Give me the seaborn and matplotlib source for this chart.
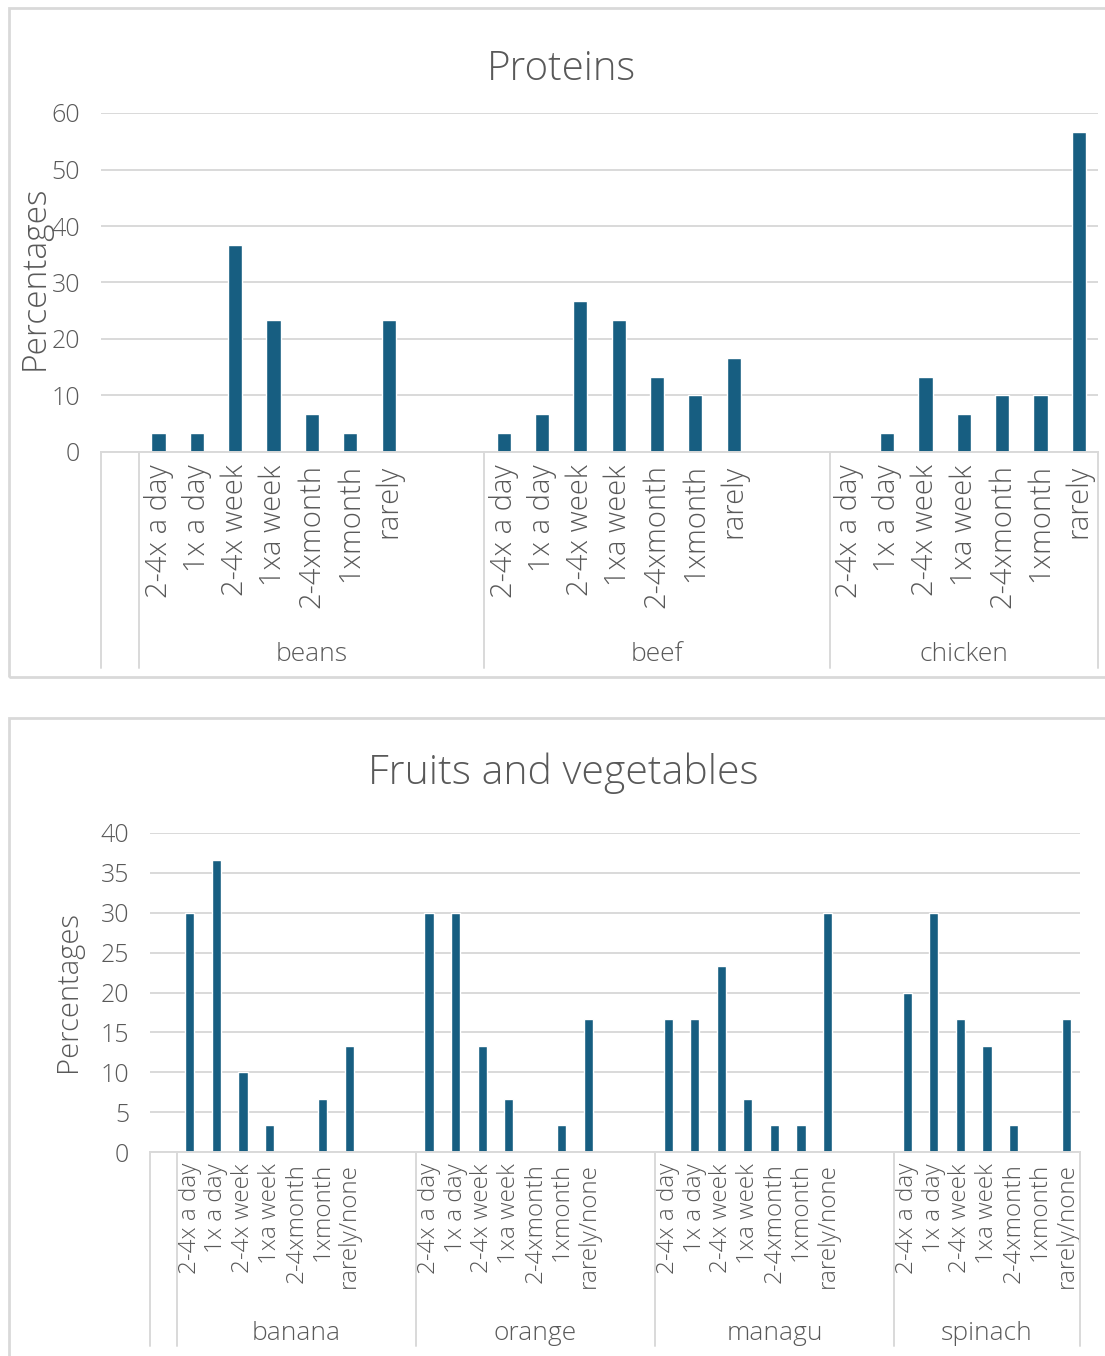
import numpy as np
import pandas as pd
import matplotlib
matplotlib.use("Agg")
import matplotlib.pyplot as plt
from matplotlib.patches import Rectangle
from matplotlib.transforms import blended_transform_factory
import seaborn as sns

# ---- data (percent of respondents) ----
protein_foods = ["beans", "beef", "chicken"]
protein_freq = ["2-4x a day", "1x a day", "2-4x week", "1xa week",
                "2-4xmonth", "1xmonth", "rarely"]
beans = [3.33, 3.33, 36.67, 23.33, 6.67, 3.33, 23.33]
beef = [3.33, 6.67, 26.67, 23.33, 13.33, 10.0, 16.67]
chicken = [0.0, 3.33, 13.33, 6.67, 10.0, 10.0, 56.67]

produce_foods = ["banana", "orange", "managu", "spinach"]
produce_freq = ["2-4x a day", "1x a day", "2-4x week", "1xa week",
                "2-4xmonth", "1xmonth", "rarely/none"]
banana = [30.0, 36.67, 10.0, 3.33, 0.0, 6.67, 13.33]
orange = [30.0, 30.0, 13.33, 6.67, 0.0, 3.33, 16.67]
managu = [16.67, 16.67, 23.33, 6.67, 3.33, 3.33, 30.0]
spinach = [20.0, 30.0, 16.67, 13.33, 3.33, 0.0, 16.67]

BAR = "#175e81"
TXT = "#595959"
GRID = "#d9d9d9"

sns.set_theme(style="white")
plt.rcParams["font.family"] = ["Open Sans", "DejaVu Sans"]
plt.rcParams["font.weight"] = "light"

W, H = 1105, 1356
fig = plt.figure(figsize=(W / 100, H / 100), dpi=100)


def fx(px):
    return px / W


def fy(py):
    return 1 - py / H


def build_slots(foods, freq, series):
    """Multi-level category layout: one blank slot, then each food's
    frequencies followed by two blank slots (none after the last food)."""
    order, labels, rows, bounds, centers = ["gap_lead"], [""], [], [0.5], []
    for gi, (food, vals) in enumerate(zip(foods, series)):
        start = len(order)
        for f, v in zip(freq, vals):
            key = f"{food}|{f}"
            order.append(key)
            labels.append(f)
            rows.append({"slot": key, "pct": v})
        if gi < len(foods) - 1:
            for k in range(2):
                order.append(f"gap_{food}_{k}")
                labels.append("")
        end = len(order) - 0.5
        bounds.append(end)
        centers.append(((start - 0.5) + end) / 2)
    return pd.DataFrame(rows), order, labels, bounds, centers


def draw_panel(rect, foods, freq, series, ymax, ystep, bar_w,
               tick_fs, cat_fs, grp_fs, cat_pad, line_depth, grp_y):
    ax = fig.add_axes(rect)
    df, order, labels, bounds, centers = build_slots(foods, freq, series)
    sns.barplot(data=df, x="slot", y="pct", order=order, color=BAR,
                saturation=1, width=bar_w, ax=ax, errorbar=None)
    ax.set_xlim(-0.5, len(order) - 0.5)
    ax.set_ylim(0, ymax)
    ticks = np.arange(0, ymax + 0.1, ystep)
    ax.set_yticks(ticks)
    ax.set_yticklabels([f"{int(t)}" for t in ticks])
    ax.set_xticks(range(len(order)))
    ax.set_xticklabels(labels, rotation=90)
    ax.set_xlabel("")
    ax.set_ylabel("")
    ax.tick_params(axis="y", length=0, pad=15, labelsize=tick_fs, labelcolor=TXT)
    ax.tick_params(axis="x", length=0, pad=cat_pad, labelsize=cat_fs, labelcolor=TXT)
    ax.yaxis.grid(True, color=GRID, lw=1.4)
    ax.set_axisbelow(True)
    for s in ["left", "right", "top"]:
        ax.spines[s].set_visible(False)
    ax.spines["bottom"].set_color(GRID)
    ax.spines["bottom"].set_linewidth(1.4)
    tr = blended_transform_factory(ax.transData, ax.transAxes)
    for b in [-0.5] + bounds:
        ax.plot([b, b], [0, -line_depth], transform=tr, clip_on=False,
                color=GRID, lw=1.4)
    for c, food in zip(centers, foods):
        ax.text(c, grp_y, food, transform=tr, ha="center", va="center",
                fontsize=grp_fs, color=TXT)
    return ax


# chart frames
fig.patches.append(Rectangle((fx(9), fy(677)), fx(1110 - 9), (677 - 8) / H,
                             transform=fig.transFigure, fill=False,
                             ec=GRID, lw=2))
fig.patches.append(Rectangle((fx(9), fy(1370)), fx(1110 - 9), (1370 - 718) / H,
                             transform=fig.transFigure, fill=False,
                             ec=GRID, lw=2))

# Proteins
draw_panel([fx(101), fy(452), fx(1098 - 101), (452 - 113) / H],
           protein_foods, protein_freq, [beans, beef, chicken],
           ymax=60, ystep=10, bar_w=0.37,
           tick_fs=18, cat_fs=21, grp_fs=19, cat_pad=9,
           line_depth=216 / 339, grp_y=-203 / 339)
fig.text(fx(561), fy(69), "Proteins", ha="center", va="center",
         fontsize=29, color=TXT)
fig.text(fx(35), fy(278), "Percentages", ha="center", va="center",
         rotation=90, fontsize=24, color=TXT)

# Fruits and vegetables
draw_panel([fx(150), fy(1152), fx(1080 - 150), (1152 - 833) / H],
           produce_foods, produce_freq, [banana, orange, managu, spinach],
           ymax=40, ystep=5, bar_w=0.34,
           tick_fs=18, cat_fs=17.5, grp_fs=19, cat_pad=8,
           line_depth=194 / 319, grp_y=-181 / 319)
fig.text(fx(563), fy(773), "Fruits and vegetables", ha="center", va="center",
         fontsize=29.5, color=TXT)
fig.text(fx(68), fy(991), "Percentages", ha="center", va="center",
         rotation=90, fontsize=21, color=TXT)

fig.savefig("out.png", dpi=100, facecolor="white")
